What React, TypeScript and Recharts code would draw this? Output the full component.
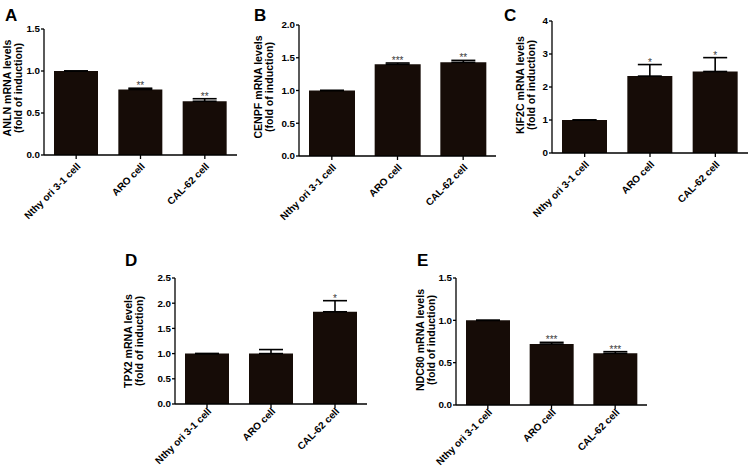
import React from "react";
import { BarChart, Bar, XAxis, YAxis, ErrorBar, LabelList } from "recharts";

const categories = ["Nthy ori 3-1 cell", "ARO cell", "CAL-62 cell"];

const anlnMean = [1.0, 0.78, 0.64];
const anlnSem = [0, 0.015, 0.03];
const anlnSig = ["", "**", "**"];

const cenpfMean = [1.0, 1.4, 1.43];
const cenpfSem = [0, 0.02, 0.03];
const cenpfSig = ["", "***", "**"];

const kif2cMean = [1.0, 2.33, 2.47];
const kif2cSem = [0, 0.35, 0.42];
const kif2cSig = ["", "*", "*"];

const tpx2Mean = [1.0, 1.0, 1.83];
const tpx2Sem = [0, 0.08, 0.22];
const tpx2Sig = ["", "", "*"];

const ndc80Mean = [1.0, 0.72, 0.61];
const ndc80Sem = [0, 0.02, 0.02];
const ndc80Sig = ["", "***", "***"];

const ticksHalf15 = [0, 0.5, 1, 1.5];
const ticksHalf20 = [0, 0.5, 1, 1.5, 2];
const ticksHalf25 = [0, 0.5, 1, 1.5, 2, 2.5];
const ticksInt4 = [0, 1, 2, 3, 4];

const FONT = '"Liberation Sans", Arial, Helvetica, sans-serif';
const BAR_FILL = "#160c07";

// only the upper arm of the error bar is drawn, like the GraphPad original
function buildRows(mean: number[], sem: number[], sig: string[]) {
  return categories.map((name, i) => ({
    name,
    mean: mean[i],
    sem: sem[i],
    semUp: [0, sem[i]],
    sig: sig[i],
  }));
}

function CellTick(props: any) {
  const { x, y, payload, drop } = props;
  const ax = x + 5;
  const ay = y + drop;
  return (
    <text
      x={ax}
      y={ay}
      transform={`rotate(-45, ${ax}, ${ay})`}
      textAnchor="end"
      fontFamily={FONT}
      fontWeight="bold"
      fontSize={10}
      fill="#000"
    >
      {payload.value}
    </text>
  );
}

function YLabel(props: any) {
  const { lx, ly, gene } = props;
  return (
    <text
      transform={`rotate(-90, ${lx}, ${ly})`}
      textAnchor="middle"
      fontFamily={FONT}
      fontWeight="bold"
      fontSize={10.6}
      fill="#000"
    >
      <tspan x={lx} y={ly}>{gene} mRNA levels</tspan>
      <tspan x={lx} y={ly + 11}>(fold of induction)</tspan>
    </text>
  );
}

interface PanelProps {
  letter: string;
  letterX: number;
  letterBase: number;
  gene: string;
  left: number;
  axisX: number;
  axisEnd: number;
  plotTop: number;
  plotBottom: number;
  xAxisHeight: number;
  tickDrop: number;
  labelX: number;
  labelY: number;
  rows: { name: string; mean: number; sem: number; semUp: number[]; sig: string }[];
  max: number;
  ticks: number[];
  decimals: number;
  barSize: number;
}

function Panel(p: PanelProps) {
  const marginTop = 12;
  const top = p.plotTop - marginTop;
  const axisWidth = p.axisX - p.left;
  const plotW = p.axisEnd - p.axisX;
  const width = axisWidth + plotW + 4;
  const height = marginTop + (p.plotBottom - p.plotTop) + p.xAxisHeight;

  const Stars = (lp: any) => {
    const { x, y, width: w, height: h, value, index } = lp;
    if (!value) return null;
    const row = p.rows[index];
    const capY = y - (row.sem * h) / row.mean;
    return (
      <text x={x + w / 2} y={capY + 1} textAnchor="middle" fontFamily={FONT} fontSize={10} fill="#3a3a3a">
        {value}
      </text>
    );
  };

  return (
    <>
      <div
        style={{
          position: "absolute",
          left: p.letterX,
          top: p.letterBase - 15,
          fontFamily: FONT,
          fontWeight: "bold",
          fontSize: 17,
          lineHeight: "17px",
          color: "#000",
        }}
      >
        {p.letter}
      </div>
      <div style={{ position: "absolute", left: p.left, top }}>
        <BarChart
          width={width}
          height={height}
          data={p.rows}
          margin={{ top: marginTop, right: 4, left: 0, bottom: 0 }}
        >
          <XAxis
            dataKey="name"
            height={p.xAxisHeight}
            interval={0}
            tick={<CellTick drop={p.tickDrop} />}
            tickSize={4}
            axisLine={{ stroke: "#000", strokeWidth: 1.3 }}
            tickLine={{ stroke: "#000", strokeWidth: 1.3 }}
          />
          <YAxis
            width={axisWidth}
            domain={[0, p.max]}
            ticks={p.ticks}
            interval={0}
            tickSize={3}
            tickMargin={1}
            tickFormatter={(v: number) => v.toFixed(p.decimals)}
            tick={{ fontFamily: FONT, fontWeight: "bold", fontSize: 9.8, fill: "#000" }}
            axisLine={{ stroke: "#000", strokeWidth: 1.3 }}
            tickLine={{ stroke: "#000", strokeWidth: 1.3 }}
            label={<YLabel lx={p.labelX - p.left} ly={p.labelY - top} gene={p.gene} />}
          />
          <Bar dataKey="mean" fill={BAR_FILL} barSize={p.barSize} isAnimationActive={false}>
            <ErrorBar dataKey="semUp" width={12} stroke="#000" strokeWidth={1.6} direction="y" />
            <LabelList dataKey="sig" content={Stars} />
          </Bar>
        </BarChart>
      </div>
    </>
  );
}

export default function App() {
  return (
    <div
      style={{
        position: "absolute",
        left: 0,
        top: 0,
        width: 752,
        height: 471,
        overflow: "hidden",
        background: "#fff",
      }}
    >
      <Panel
        letter="A" letterX={5} letterBase={22} gene="ANLN"
        left={0} axisX={44} axisEnd={237} plotTop={29} plotBottom={155} xAxisHeight={76} tickDrop={6}
        labelX={11} labelY={88}
        rows={buildRows(anlnMean, anlnSem, anlnSig)} max={1.5} ticks={ticksHalf15} decimals={1} barSize={44}
      />
      <Panel
        letter="B" letterX={254} letterBase={22} gene="CENPF"
        left={250} axisX={299} axisEnd={496} plotTop={25} plotBottom={156} xAxisHeight={76} tickDrop={6}
        labelX={262} labelY={87}
        rows={buildRows(cenpfMean, cenpfSem, cenpfSig)} max={2} ticks={ticksHalf20} decimals={1} barSize={46}
      />
      <Panel
        letter="C" letterX={504} letterBase={22} gene="KIF2C"
        left={500} axisX={552} axisEnd={748} plotTop={21} plotBottom={153} xAxisHeight={76} tickDrop={6}
        labelX={524} labelY={85}
        rows={buildRows(kif2cMean, kif2cSem, kif2cSig)} max={4} ticks={ticksInt4} decimals={0} barSize={45}
      />
      <Panel
        letter="D" letterX={125} letterBase={267} gene="TPX2"
        left={118} axisX={175} axisEnd={367} plotTop={278} plotBottom={404} xAxisHeight={67} tickDrop={2}
        labelX={132} labelY={341}
        rows={buildRows(tpx2Mean, tpx2Sem, tpx2Sig)} max={2.5} ticks={ticksHalf25} decimals={1} barSize={44}
      />
      <Panel
        letter="E" letterX={417} letterBase={267} gene="NDC80"
        left={380} axisX={456} axisEnd={647} plotTop={278} plotBottom={405} xAxisHeight={66} tickDrop={2}
        labelX={424} labelY={340}
        rows={buildRows(ndc80Mean, ndc80Sem, ndc80Sig)} max={1.5} ticks={ticksHalf15} decimals={1} barSize={44}
      />
    </div>
  );
}
